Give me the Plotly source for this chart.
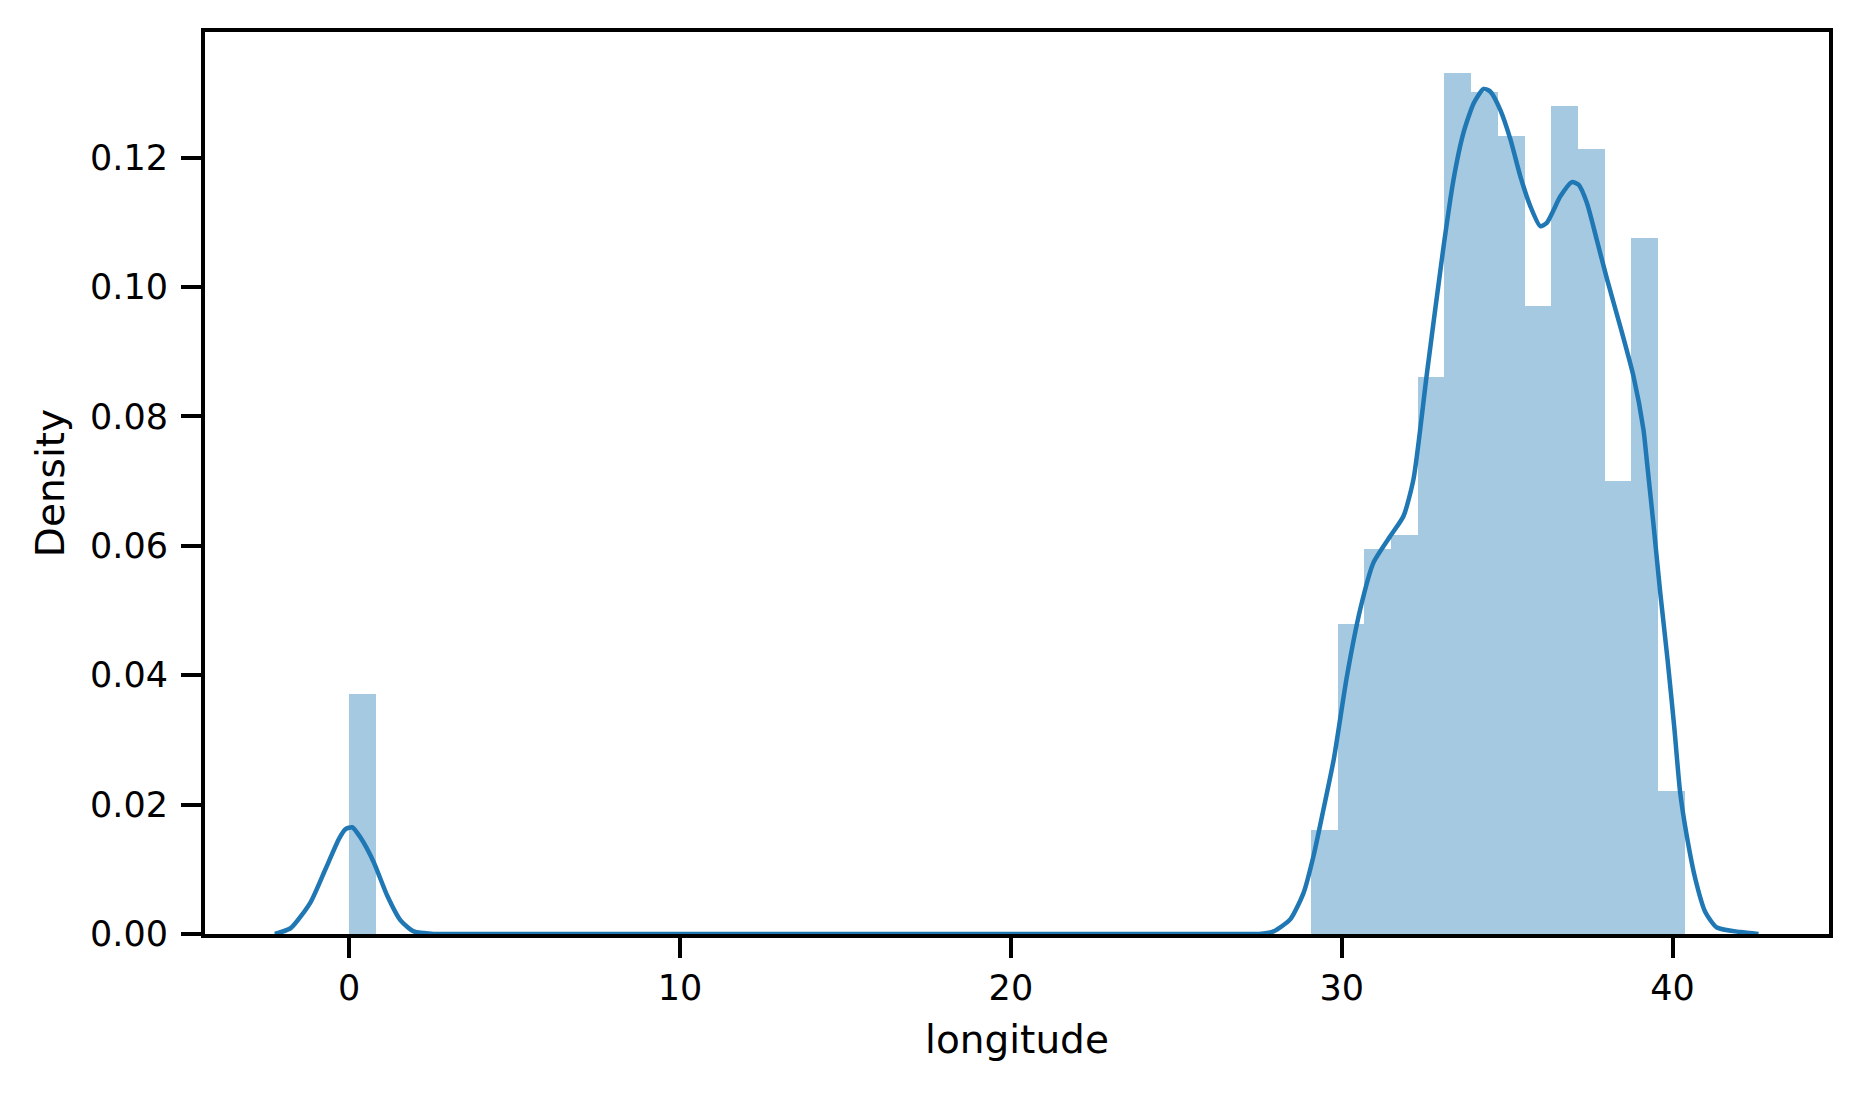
import plotly.graph_objects as go

# Histogram (density): left edge of each non-empty bin and its height.
bin_width = 0.807
bin_left = [0.0, 29.07, 29.88, 30.68, 31.49, 32.30, 33.10, 33.91, 34.72,
            35.52, 36.33, 37.14, 37.94, 38.75, 39.56]
bin_density = [0.0371, 0.0161, 0.0479, 0.0595, 0.0616, 0.0861, 0.1331, 0.1301,
               0.1234, 0.0970, 0.1280, 0.1213, 0.0700, 0.1075, 0.0221]

# KDE curve, points.
kde_x = [-2.25, -1.77, -1.17, -0.72, -0.31, -0.11, 0.09, 0.34, 0.74, 1.15, 1.55,
         1.95, 2.55, 3.2, 27.0, 27.5, 27.94, 28.45, 28.85, 29.15, 29.45, 29.76, 30.16, 30.56,
         30.96, 31.47, 31.87, 32.17, 32.58, 33.08, 33.38, 33.68, 33.99, 34.29,
         34.49, 34.79, 35.10, 35.40, 35.70, 36.00, 36.20, 36.61, 36.96, 37.16,
         37.41, 37.71, 38.02, 38.42, 38.82, 39.12, 39.22, 39.43, 39.63, 39.85,
         40.05, 40.23, 40.43, 40.69, 40.99, 41.34, 42.05, 42.6]
kde_y = [0.0, 0.0009, 0.0049, 0.0100, 0.0147, 0.0162, 0.0165, 0.0149, 0.0111,
         0.0059, 0.0021, 0.0004, 0.0, 0.0, 0.0, 0.0, 0.0004, 0.0023, 0.0064, 0.0121, 0.0193,
         0.0270, 0.0399, 0.0502, 0.0574, 0.0615, 0.0646, 0.0703, 0.0868, 0.1063,
         0.1166, 0.1238, 0.1284, 0.1306, 0.1302, 0.1274, 0.1228, 0.1171, 0.1125,
         0.1094, 0.1099, 0.1140, 0.1162, 0.1158, 0.1130, 0.1073, 0.1012, 0.0939,
         0.0862, 0.0780, 0.0733, 0.0630, 0.0527, 0.0424, 0.0321, 0.0219, 0.0152,
         0.0085, 0.0034, 0.0010, 0.0003, 0.0]

x_ticks = [0, 10, 20, 30, 40]
y_ticks = [0.0, 0.02, 0.04, 0.06, 0.08, 0.10, 0.12]

blue = "#1f77b4"
bar_color = "#a5c9e1"  # #1f77b4 at 40% on white, opaque so bars don't show seams
font = "DejaVu Sans"

fig = go.Figure()
fig.add_trace(
    go.Bar(
        x=bin_left,
        y=bin_density,
        width=bin_width,
        offset=0,
        marker=dict(color=bar_color, line=dict(width=0)),
        showlegend=False,
    )
)
fig.add_trace(
    go.Scatter(
        x=kde_x,
        y=kde_y,
        mode="lines",
        line=dict(color=blue, width=4.5, shape="spline", smoothing=0.6),
        showlegend=False,
    )
)

axis_style = dict(
    showline=True,
    linecolor="black",
    linewidth=4,
    mirror=True,
    ticks="outside",
    ticklen=20,
    tickwidth=4,
    tickcolor="black",
    showgrid=False,
    zeroline=False,
    automargin=False,
    tickfont=dict(family=font, size=35, color="black"),
)

# the page body adds an 8px margin, so the figure is made 8px smaller
fig.update_layout(
    template="none",
    width=1852,
    height=1085,
    margin=dict(l=197, r=31, t=24, b=159),
    plot_bgcolor="white",
    paper_bgcolor="white",
    bargap=0,
    xaxis=dict(
        range=[-4.36, 44.73],
        tickvals=x_ticks,
        title=dict(text="longitude", font=dict(family=font, size=39, color="black"), standoff=20),
        **axis_style,
    ),
    yaxis=dict(
        range=[0, 0.1394],
        tickvals=y_ticks,
        tickformat=".2f",
        ticklabelstandoff=6,
        title=dict(text="Density", font=dict(family=font, size=39, color="black"), standoff=14),
        **axis_style,
    ),
)

fig.write_html("out.html")
